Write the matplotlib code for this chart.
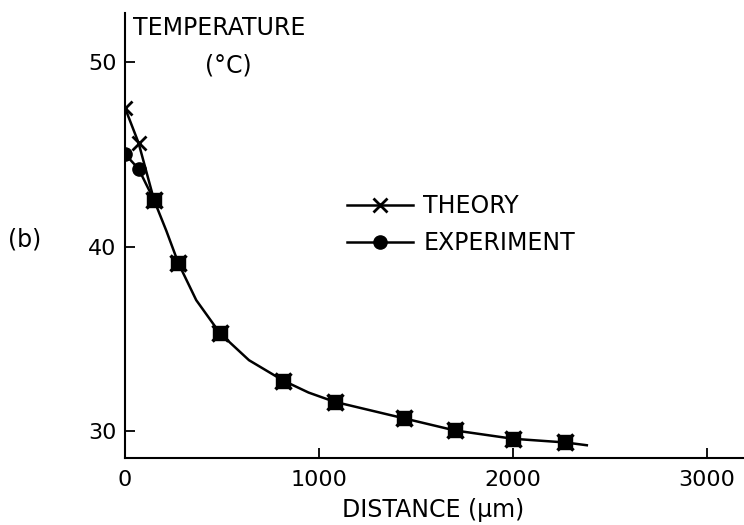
import matplotlib.pyplot as plt
from matplotlib.lines import Line2D

plt.rcParams['font.family'] = ['DejaVu Sans']

# values
theory_x = [0, 70]
theory_y = [47.5, 45.6]
exp_x = [0, 70]
exp_y = [45.0, 44.2]
shared_x = [150, 275, 490, 815, 1080, 1440, 1700, 2000, 2270]
shared_y = [42.5, 39.1, 35.3, 32.75, 31.6, 30.7, 30.05, 29.6, 29.4]
# drawn curve (through the points, plus its tail)
curve_x = [150, 213, 275, 367, 490, 639, 815, 946, 1080, 1440, 1700, 2000, 2270, 2380]
curve_y = [42.5, 40.85, 39.1, 37.1, 35.3, 33.85, 32.75, 32.1, 31.6, 30.7, 30.05, 29.6, 29.4, 29.25]

fig = plt.figure(figsize=(7.44, 5.25), dpi=100)
ax = fig.add_axes([125 / 744, 1 - 458 / 525, 1 - 125 / 744, 445 / 525])

lw = 1.8
ax.plot(theory_x + shared_x[:1], theory_y + shared_y[:1], color='black', lw=lw)
ax.plot(exp_x + shared_x[:1], exp_y + shared_y[:1], color='black', lw=lw)
ax.plot(curve_x, curve_y, color='black', lw=lw, solid_joinstyle='round')

ax.plot(theory_x, theory_y, 'x', color='black', ms=10, mew=2)
ax.plot(exp_x, exp_y, 'o', color='black', ms=9.5)
ax.plot(shared_x, shared_y, 's', color='black', ms=9.5)
ax.plot(shared_x, shared_y, 'x', color='black', ms=12, mew=2.5)

ax.set_xlim(0, 3190)
ax.set_ylim(28.56, 52.63)
ax.set_xticks([0, 1000, 2000, 3000])
ax.set_yticks([30, 40, 50])
ax.tick_params(direction='in', length=7, width=1.3, labelsize=16, pad=6)
ax.tick_params(axis='x', pad=9)
for s in ['top', 'right']:
    ax.spines[s].set_visible(False)
for s in ['left', 'bottom']:
    ax.spines[s].set_linewidth(1.5)

handles = [
    Line2D([], [], color='black', lw=lw, marker='x', ms=10, mew=2),
    Line2D([], [], color='black', lw=lw, marker='o', ms=9.5),
]
ax.legend(handles, ['THEORY', 'EXPERIMENT'], loc='upper left',
          bbox_to_anchor=(380 / 744 - 125 / 744, 1 - (185 - 13) / 445),
          bbox_transform=ax.transAxes, frameon=False, fontsize=17,
          handlelength=2.8, handletextpad=0.45, labelspacing=0.55,
          numpoints=1, borderaxespad=0)

fig.text(133 / 744, 1 - 28 / 525, 'TEMPERATURE', fontsize=17, va='center')
fig.text(205 / 744, 1 - 66 / 525, '(°C)', fontsize=17, va='center')
fig.text(8 / 744, 1 - 240 / 525, '(b)', fontsize=17, va='center')
fig.text(433 / 744, 1 - 510 / 525, 'DISTANCE (µm)', fontsize=17,
         va='center', ha='center')

fig.savefig('out.png', dpi=100)
